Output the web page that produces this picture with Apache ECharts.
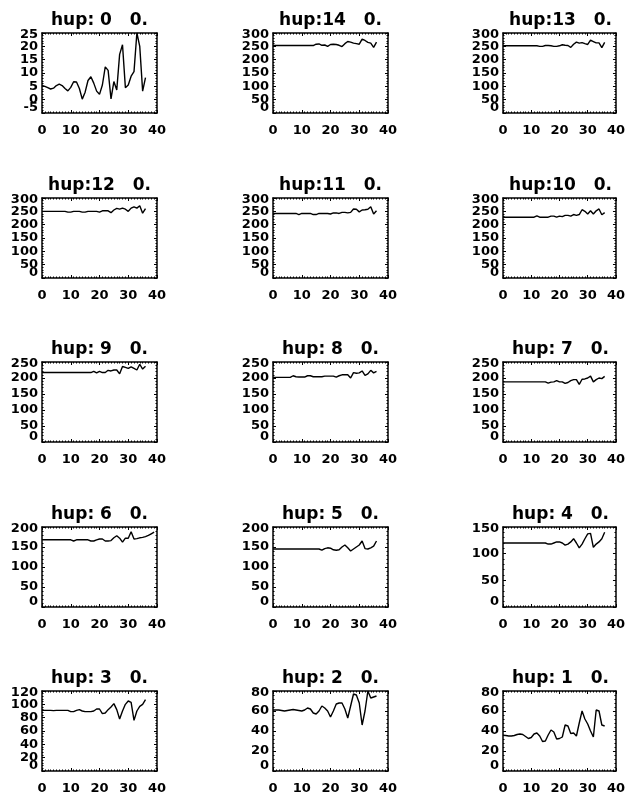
<!DOCTYPE html>
<html>
<head>
<meta charset="utf-8">
<script src="https://cdn.jsdelivr.net/npm/echarts@6/dist/echarts.min.js"></script>
<style>
  html, body { margin: 0; padding: 0; background: #ffffff; }
  #chart { width: 628px; height: 795px; }
</style>
</head>
<body>
<div id="chart"></div>
<script>
// time index shared by most panels; hup 6 runs a few steps longer
const steps  = [0,1,2,3,4,5,6,7,8,9,10,11,12,13,14,15,16,17,18,19,20,21,22,23,24,25,26,27,28,29,30,31,32,33,34,35,36];
const steps6 = [0,1,2,3,4,5,6,7,8,9,10,11,12,13,14,15,16,17,18,19,20,21,22,23,24,25,26,27,28,29,30,31,32,33,34,35,36,37,38,39];

// one series per hup level
const hup0  = [5.3,5.0,4.5,4.0,4.3,5.3,5.8,5.3,4.2,3.3,4.6,6.7,6.6,4.2,0.2,2.8,7.2,8.6,6.2,3.2,2.0,5.5,12.3,11.0,0.3,6.8,3.6,17.0,20.6,4.5,5.5,8.8,10.5,25.0,20.0,3.2,8.3];
const hup1  = [35.8,35.5,35,35,35.5,36.5,37,36.5,34.5,32.5,33.5,37,38,35,29.5,30,36,41,39,32,32.5,34,46,45,37.5,38,35,48,60,52,47,40,34,61,60,46,45];
const hup2  = [61,61,61,60.5,60,60.5,61,61.5,61,60.5,60,61,63,62,58,57,60,65,63,60,54,60,67,68,68,62,53,65,77,76,68,46,60,80,73,74,75];
const hup3  = [91,91,91,91,90.5,91,91,91,91,91,89,89,91,92,90,89,89,89,90,93,93,86,87,92,96,101,92,78,90,100,105,103,76,90,97,100,107];
const hup4  = [120,120,120,120,120,120,120,120,120,120,120,120,120,120,120,120,118,118,120,122,122,120,116,118,122,128,120,111,118,128,137,138,112,118,122,128,140];
const hup5  = [145,145,145,145,145,145,145,145,145,145,145,145,145,145,145,145,145,142,146,148,147,143,142,143,150,155,148,140,145,150,155,165,146,145,148,152,165];
const hup6  = [168,168,168,168,168,168,168,168,168,168,168,165,168,168,168,168,168,165,165,168,170,170,165,165,166,173,178,172,162,172,172,188,170,171,173,174,176,179,183,187];
const hup7  = [188,188,188,188,188,188,188,188,188,188,188,188,188,188,188,188,184,187,188,192,188,188,183,186,192,195,195,180,196,197,200,206,188,195,200,198,205];
const hup8  = [202,202,202,202,202,202,202,207,204,203,203,203,207,207,204,204,204,204,206,206,206,206,203,207,210,210,210,200,217,215,216,222,208,213,224,216,221];
const hup9  = [217,217,217,217,217,217,217,217,217,217,217,217,217,217,217,217,217,217,221,216,221,217,217,224,222,225,225,213,236,233,230,235,230,225,243,228,237];
const hup10 = [228,228,228,228,228,228,228,228,228,228,228,228,233,228,228,228,228,232,232,228,232,230,235,235,232,238,235,238,256,250,240,252,240,252,259,237,245];
const hup11 = [242,242,242,242,242,242,242,242,242,238,242,242,242,242,238,238,242,242,242,242,240,244,244,242,246,246,244,246,259,258,248,255,256,258,267,240,252];
const hup12 = [250,250,250,250,250,250,250,250,250,247,247,250,250,250,247,247,250,250,250,250,247,252,252,252,245,255,261,258,262,258,250,262,267,262,271,243,260];
const hup13 = [252,252,252,252,252,252,252,252,252,252,252,252,252,250,250,253,253,252,250,250,252,256,254,253,246,258,266,262,264,260,257,273,268,263,263,245,265];
const hup14 = [253,253,253,253,253,253,253,253,253,253,253,253,253,253,253,258,259,254,255,250,257,258,257,254,249,260,268,266,262,260,258,277,272,265,262,246,266];

// panels in reading order (left to right, top to bottom)
const panelLevels = [0,14,13,12,11,10,9,8,7,6,5,4,3,2,1];
const panelSeries = [hup0,hup14,hup13,hup12,hup11,hup10,hup9,hup8,hup7,hup6,hup5,hup4,hup3,hup2,hup1];
const panelSteps  = [steps,steps,steps,steps,steps,steps,steps,steps,steps,steps6,steps,steps,steps,steps,steps];

// vertical scale per panel: [min, max, step]
const yScales = [
  [-5,25,5], [0,300,50], [0,300,50],
  [0,300,50], [0,300,50], [0,300,50],
  [0,250,50], [0,250,50], [0,250,50],
  [0,200,50], [0,200,50], [0,150,50],
  [0,120,20], [0,80,20],  [0,80,20]
];
const xTicks = [0, 40, 10];   // min, max, step

// page layout
const colLeft = [42, 273, 503];
const rowTop = [33, 198, 362, 527, 691];
const boxW = 115, boxH = 80;

const font = 'DejaVu Sans';
const ink = '#000000';

const grid = [], xAxis = [], yAxis = [], series = [], title = [];

const frame = () => ({
  axisLine: { show: true, onZero: false, lineStyle: { color: ink, width: 1.5 } },
  axisTick: { show: true, inside: true, length: 3, lineStyle: { color: ink, width: 1 } },
  splitLine: { show: false }
});
const minor = n => ({ show: true, splitNumber: n, length: 1.5, lineStyle: { color: ink, width: 1 } });

panelLevels.forEach((lvl, i) => {
  const col = i % 3, row = Math.floor(i / 3);
  const left = colLeft[col], top = rowTop[row];
  const [ymin, ymax, ystep] = yScales[i];

  grid.push({ left: left, top: top, width: boxW, height: boxH, containLabel: false });

  title.push({
    text: 'hup:' + String(lvl).padStart(2, ' ') + '   0.',
    left: left + boxW / 2,
    top: top - 21,
    textAlign: 'center',
    padding: 0,
    textStyle: { fontFamily: font, fontWeight: 'bold', fontSize: 17, color: ink }
  });

  // bottom axis with labels, top axis closes the frame
  xAxis.push(Object.assign({
    gridIndex: i, type: 'value', position: 'bottom',
    min: xTicks[0], max: xTicks[1], interval: xTicks[2],
    minorTick: minor(10),
    axisLabel: {
      show: true, margin: 11, color: ink, fontFamily: font, fontWeight: 'bold', fontSize: 13,
      showMinLabel: true, showMaxLabel: true, hideOverlap: false
    }
  }, frame()));
  xAxis.push(Object.assign({
    gridIndex: i, type: 'value', position: 'top',
    min: xTicks[0], max: xTicks[1], interval: xTicks[2],
    minorTick: minor(10),
    axisLabel: { show: false }
  }, frame()));

  // left and right axes; the left labels are drawn below from the same scale
  yAxis.push(Object.assign({
    gridIndex: i, type: 'value', position: 'left',
    min: ymin, max: ymax, interval: ystep,
    minorTick: minor(5),
    axisLabel: { show: false }
  }, frame()));
  yAxis.push(Object.assign({
    gridIndex: i, type: 'value', position: 'right',
    min: ymin, max: ymax, interval: ystep,
    minorTick: minor(5),
    axisLabel: { show: false }
  }, frame()));

  series.push({
    type: 'line',
    xAxisIndex: i * 2,
    yAxisIndex: i * 2,
    data: panelSteps[i].map((s, k) => [s, panelSeries[i][k]]),
    showSymbol: false,
    symbol: 'none',
    lineStyle: { color: ink, width: 1.4 },
    silent: true
  });
});

const chart = echarts.init(document.getElementById('chart'), null, { renderer: 'canvas' });
chart.setOption({
  animation: false,
  backgroundColor: '#ffffff',
  title: title,
  grid: grid,
  xAxis: xAxis,
  yAxis: yAxis,
  series: series
});

// y tick labels: every tick is kept, the end labels are tucked inside the frame
const tickLabels = [];
panelLevels.forEach((lvl, i) => {
  const [ymin, ymax, ystep] = yScales[i];
  for (let v = ymin; v <= ymax + 1e-9; v += ystep) {
    const p = chart.convertToPixel({ xAxisIndex: i * 2, yAxisIndex: i * 2 }, [xTicks[0], v]);
    const nudge = v === ymin ? -5 : (v === ymax ? 2 : 0);
    tickLabels.push({
      type: 'text',
      x: p[0] - 4,
      y: p[1] + nudge,
      silent: true,
      style: {
        text: String(v),
        align: 'right',
        verticalAlign: 'middle',
        font: 'bold 13px "' + font + '"',
        fill: ink
      }
    });
  }
});
chart.setOption({ graphic: tickLabels });
</script>
</body>
</html>
